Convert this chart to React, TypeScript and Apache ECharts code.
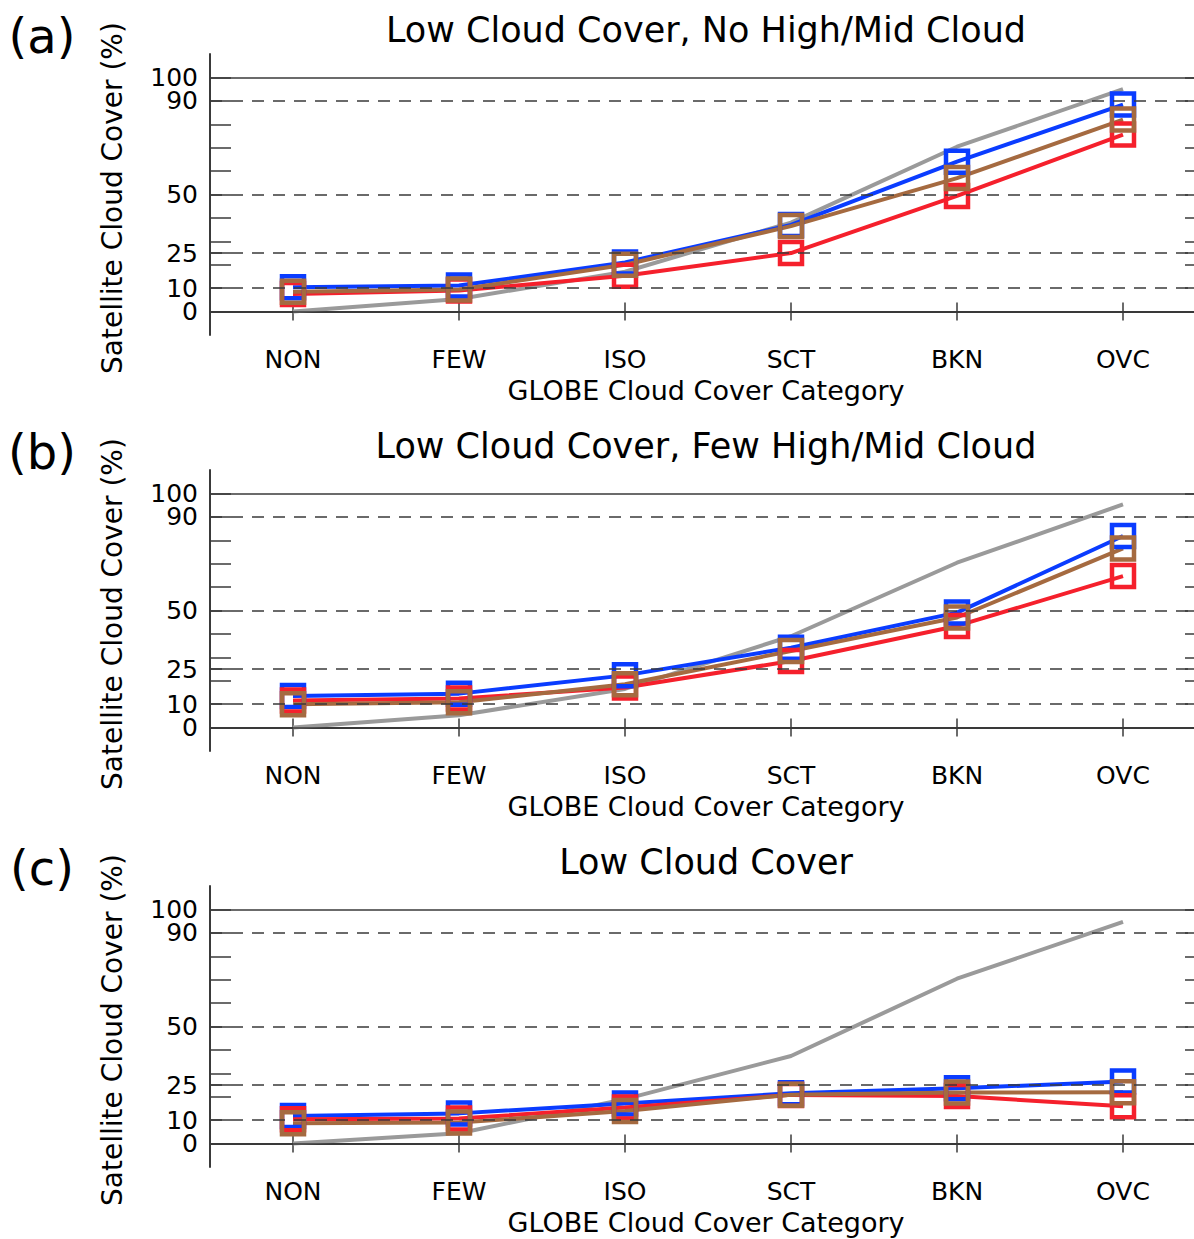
import React, { useEffect, useRef } from "react";
import * as echarts from "echarts";

const categories = ["NON", "FEW", "ISO", "SCT", "BKN", "OVC"];
const yLabelValues = [0, 10, 25, 50, 90, 100];
const yTickValues = [0, 10, 20, 25, 30, 40, 50, 60, 70, 80, 90, 100];
const solidLines = [0, 100];
const dashedLines = [10, 25, 50, 90];
const Y_MIN = -10;
const Y_MAX = 110;

const panelTitles = [
  "Low Cloud Cover, No High/Mid Cloud",
  "Low Cloud Cover, Few High/Mid Cloud",
  "Low Cloud Cover",
];
const panelLetters = ["(a)", "(b)", "(c)"];

const grayA = [0, 5.4, 17, 38, 70.4, 95];
const blueA = [10.4, 11.1, 21, 37, 64, 88.4];
const redA = [7.5, 9, 15.3, 25, 49.4, 75.6];
const brownA = [8.5, 9.4, 20, 36.5, 57, 82];

const grayB = [0, 5.3, 16.5, 39, 70.4, 95.3];
const blueB = [13.5, 14.5, 22.3, 34.1, 49.1, 81.8];
const redB = [11.6, 12.4, 17.1, 28.4, 43.4, 64.7];
const brownB = [10, 10.8, 18.5, 32.7, 47, 76.5];

const grayC = [0, 4.4, 19, 37.4, 70.4, 94.7];
const blueC = [11.8, 12.9, 17.1, 21.5, 23.6, 26.5];
const redC = [10.4, 10.7, 15.4, 20.8, 20.3, 15.9];
const brownC = [8.7, 9.0, 13.9, 20.9, 21.8, 21.9];

const panels = [
  { gray: grayA, blue: blueA, red: redA, brown: brownA },
  { gray: grayB, blue: blueB, red: redB, brown: brownB },
  { gray: grayC, blue: blueC, red: redC, brown: brownC },
];

const COLORS = { gray: "#9a9a9a", blue: "#0a3cff", red: "#f5202c", brown: "#a56a40" };
const FONT = "DejaVu Sans";
const AXIS_COLOR = "#3a3a3a";

export default function App() {
  const ref = useRef<HTMLDivElement>(null);
  useEffect(() => {
    if (!ref.current) return;
    const chart = echarts.init(ref.current, undefined, { renderer: "svg" });
    const GRID_LEFT = 210;
    const GRID_W = 996;
    const GRID_H = 281;
    const TOP0 = 54;
    const STEP = 416;

    const grids: any[] = [];
    const xAxes: any[] = [];
    const yAxes: any[] = [];
    const series: any[] = [];
    const graphics: any[] = [];

    panels.forEach((p, i) => {
      const top = TOP0 + i * STEP;
      grids.push({ left: GRID_LEFT, top, width: GRID_W, height: GRID_H, containLabel: false });
      const baseX = {
        type: "category",
        data: categories,
        gridIndex: i,
        boundaryGap: true,
        axisLine: { show: true, lineStyle: { color: AXIS_COLOR, width: 2 } },
        axisTick: { show: true, inside: true, alignWithLabel: true, interval: 0, length: 9, lineStyle: { color: AXIS_COLOR, width: 1.5 } },
        splitLine: { show: false },
      };
      xAxes.push({
        ...baseX,
        position: "bottom",
        axisLabel: { show: true, interval: 0, margin: 12, color: "#000", fontFamily: FONT, fontSize: 25 },
      });
      xAxes.push({ ...baseX, position: "top", axisLabel: { show: false } });
      const baseY = {
        type: "value",
        gridIndex: i,
        min: Y_MIN,
        max: Y_MAX,
        axisLine: { show: true, lineStyle: { color: AXIS_COLOR, width: 2 } },
        axisTick: { show: true, inside: true, length: 21, customValues: yTickValues, lineStyle: { color: AXIS_COLOR, width: 1.5 } },
        splitLine: { show: false },
      };
      yAxes.push({
        ...baseY,
        position: "left",
        axisLabel: {
          show: true,
          customValues: [Y_MIN, ...yLabelValues, Y_MAX],
          formatter: (v: number) => (yLabelValues.includes(v) ? String(v) : ""),
          hideOverlap: false,
          margin: 12,
          color: "#000",
          fontFamily: FONT,
          fontSize: 25,
          lineHeight: 22,
        },
      });
      yAxes.push({ ...baseY, position: "right", axisLabel: { show: false } });

      const xi = i * 2;
      const yi = i * 2;
      series.push({
        type: "line",
        xAxisIndex: xi,
        yAxisIndex: yi,
        data: [],
        silent: true,
        markLine: {
          silent: true,
          symbol: ["none", "none"],
          label: { show: false },
          lineStyle: { color: AXIS_COLOR, width: 1.5, type: [12, 9] },
          data: [
            ...solidLines.map((v) => ({ yAxis: v, lineStyle: { type: "solid", color: AXIS_COLOR, width: 1.5 } })),
            ...dashedLines.map((v) => ({ yAxis: v })),
          ],
        },
      });
      series.push({
        type: "line",
        name: "gray" + i,
        xAxisIndex: xi,
        yAxisIndex: yi,
        data: p.gray,
        showSymbol: false,
        symbol: "none",
        lineStyle: { color: COLORS.gray, width: 4 },
        itemStyle: { color: COLORS.gray },
      });
      (["blue", "red", "brown"] as const).forEach((k) => {
        series.push({
          type: "line",
          name: k + i,
          xAxisIndex: xi,
          yAxisIndex: yi,
          data: (p as any)[k],
          symbol: "rect",
          symbolSize: 22,
          showSymbol: true,
          lineStyle: { color: COLORS[k], width: 4 },
          itemStyle: { color: "rgba(0,0,0,0)", borderColor: COLORS[k], borderWidth: 4.5 },
        });
      });

      graphics.push({
        type: "text",
        x: 706,
        y: 30 + i * STEP,
        style: { text: panelTitles[i], font: `35px "${FONT}"`, fill: "#000", textAlign: "center", textVerticalAlign: "middle" },
      });
      graphics.push({
        type: "text",
        x: 42,
        y: 36 + i * STEP,
        style: { text: panelLetters[i], font: `48px "${FONT}"`, fill: "#000", textAlign: "center", textVerticalAlign: "middle" },
      });
      graphics.push({
        type: "text",
        x: 706,
        y: 390 + i * STEP,
        style: { text: "GLOBE Cloud Cover Category", font: `27px "${FONT}"`, fill: "#000", textAlign: "center", textVerticalAlign: "middle" },
      });
      graphics.push({
        type: "text",
        x: 112,
        y: 198 + i * STEP,
        rotation: Math.PI / 2,
        style: { text: "Satellite Cloud Cover (%)", font: `28px "${FONT}"`, fill: "#000", textAlign: "center", textVerticalAlign: "middle" },
      });
    });

    chart.setOption({
      animation: false,
      backgroundColor: "#fff",
      grid: grids,
      xAxis: xAxes,
      yAxis: yAxes,
      series,
      graphic: graphics,
    });
    return () => chart.dispose();
  }, []);
  return (
    <div style={{ position: "absolute", left: 0, top: 0, width: 1194, height: 1239, overflow: "hidden" }}>
      <div ref={ref} style={{ width: 1212, height: 1239 }} />
    </div>
  );
}
